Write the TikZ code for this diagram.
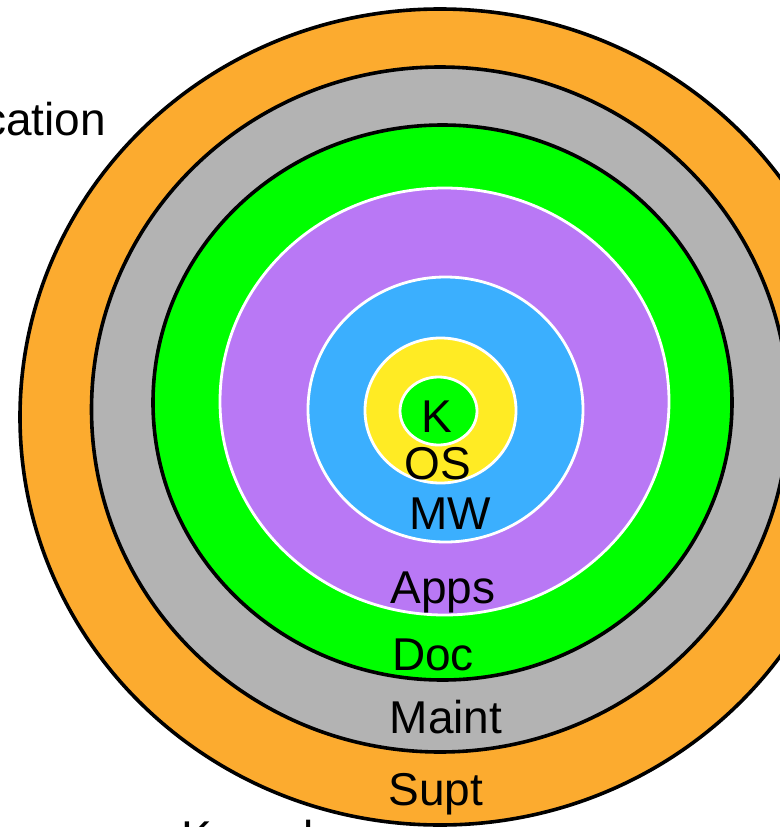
\documentclass[tikz,border=0pt]{standalone}
\usepackage{fontspec}
\setmainfont{Liberation Sans}
\usepackage{xcolor}
\definecolor{suptorange}{RGB}{252,171,47}
\definecolor{maintgray}{RGB}{179,179,179}
\definecolor{docgreen}{RGB}{0,255,0}
\definecolor{appspurple}{RGB}{185,120,245}
\definecolor{mwblue}{RGB}{59,175,254}
\definecolor{osyellow}{RGB}{255,235,36}

\begin{document}
\begin{tikzpicture}[x=1pt,y=-1pt,
        lbl/.style={anchor=base,inner sep=0pt,font=\fontsize{46}{55}\selectfont}]
        \useasboundingbox (0,0) rectangle (779,827);
        % rings, outside in
        \foreach \cx/\cy/\rx/\ry/\col/\edge/\lw in
            {440/417/420/408/suptorange/black/3.6,
             440/409.5/348.5/342.5/maintgray/black/3.6,
             442.5/402.5/289.5/277.5/docgreen/black/3.6,
             444.5/401.5/224.5/213.5/appspurple/white/2.8,
             445.5/409.5/137.5/132.5/mwblue/white/2.8,
             440.5/410.5/75.5/72.5/osyellow/white/2.8,
             438.5/411/38.5/34/docgreen/white/2.8}
          \filldraw[fill=\col,draw=\edge,line width=\lw pt]
                (\cx,\cy) ellipse [x radius=\rx pt,y radius=\ry pt];
        % layer labels
        \foreach \name/\x/\y in {K/437/432,OS/438/479,MW/450/529,Apps/443/603,
                                 Doc/433/670,Maint/446/733,Supt/436/805}
          \node[lbl] (\name) at (\x,\y) {\name};
        % side texts, cut by the page
        \node[lbl,anchor=base east] (app) at (106,135) {Application};
        \node[lbl,anchor=base west] (kernel) at (181,853) {Kernel};
\end{tikzpicture}
\end{document}
